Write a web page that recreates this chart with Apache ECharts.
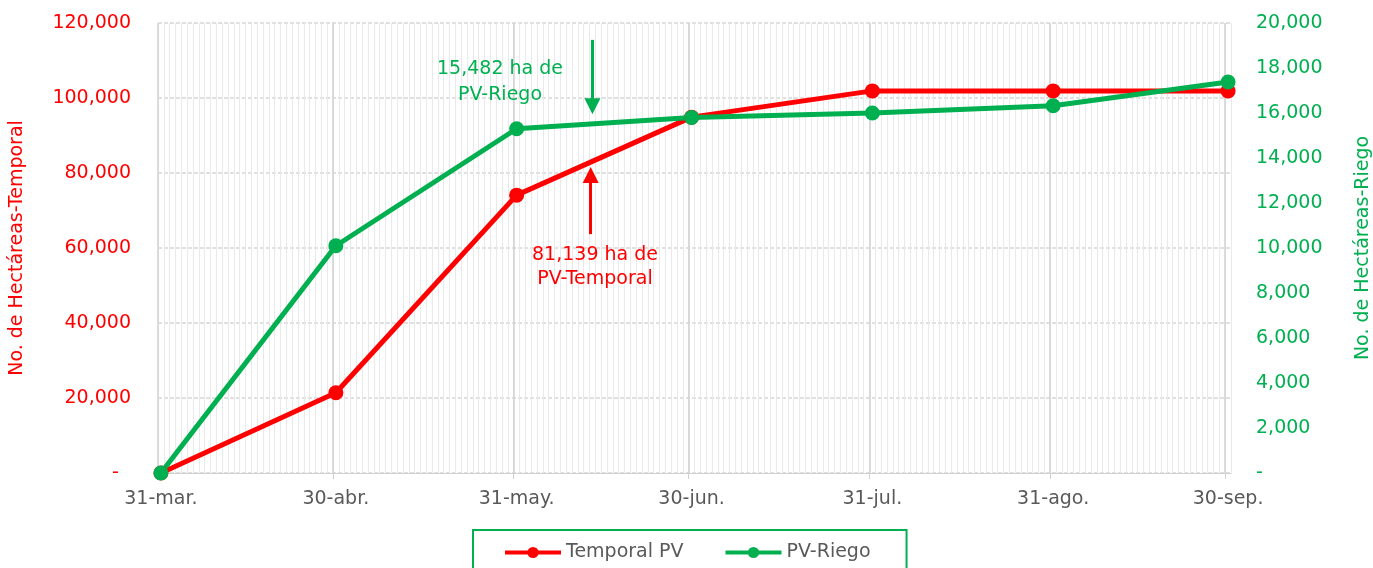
<!DOCTYPE html>
<html>
<head>
<meta charset="utf-8">
<script src="https://cdn.jsdelivr.net/npm/echarts@6/dist/echarts.min.js"></script>
<style>
  html, body { margin: 0; padding: 0; background: #fff; }
  #chart { width: 1373px; height: 568px; }
</style>
</head>
<body>
<div id="chart"></div>
<script>
// days counted from 31-mar, one bin per day
let dayOffsets = [0, 30, 61, 91, 122, 153, 183];
let dateLabels = ['31-mar.', '30-abr.', '31-may.', '30-jun.', '31-jul.', '31-ago.', '30-sep.'];
let temporalPV = [0, 21400, 74100, 94900, 101900, 101900, 101900];
let riegoPV = [0, 10100, 15300, 15800, 16000, 16320, 17380];
let totalDays = 184;

const RED = '#ff0000', GREEN = '#00b050', GRAY = '#595959';
const FONT = 'DejaVu Sans';

// points sit in the middle of their day bin
let centers = dayOffsets.map(d => d + 0.5);
let temporalData = centers.map((x, i) => [x, temporalPV[i]]);
let riegoData = centers.map((x, i) => [x, riegoPV[i]]);

function dateLabel(v) {
  let i = centers.findIndex(c => Math.abs(c - v) < 0.01);
  return i >= 0 ? dateLabels[i] : '';
}
function fmt(v, pad) {
  if (v === 0) return pad ? '-  ' : '-';
  return v.toLocaleString('en-US');
}

let chart = echarts.init(document.getElementById('chart'), null, { renderer: 'canvas' });
let option = {
  animation: false,
  textStyle: { fontFamily: FONT },
  grid: { left: 158, right: 142, top: 23, bottom: 95, containLabel: false, outerBoundsMode: 'none' },
  xAxis: [{
    // daily minor lines
    type: 'value', position: 'bottom', min: 0, max: totalDays, interval: 1,
    axisLine: { show: false }, axisTick: { show: false }, axisLabel: { show: false },
    splitLine: { show: true, lineStyle: { color: '#e9e9e9', width: 1 } }
  }, {
    type: 'value', position: 'bottom', min: 0, max: totalDays, z: 2,
    axisLine: { show: true, lineStyle: { color: '#d0d0d0', width: 1 } },
    axisTick: { show: true, length: 6, customValues: dayOffsets, lineStyle: { color: '#d0d0d0' } },
    axisLabel: {
      customValues: centers, formatter: dateLabel,
      color: GRAY, fontSize: 19, fontFamily: FONT, margin: 17
    },
    splitLine: { show: true, lineStyle: { color: '#d0d0d0', width: 1.5 } }
  }],
  yAxis: [{
    type: 'value', position: 'left', min: 0, max: 120000, interval: 20000,
    name: 'No. de Hectáreas-Temporal', nameLocation: 'middle', nameRotate: 90, nameGap: 131,
    nameTextStyle: { color: RED, fontSize: 19, fontFamily: FONT },
    axisLine: { show: false }, axisTick: { show: false },
    axisLabel: { color: RED, fontSize: 19, fontFamily: FONT, margin: 27, formatter: v => fmt(v, true) },
    splitLine: { show: true, lineStyle: { color: '#d6d6d6', width: 1.5, type: [4, 2] } }
  }, {
    type: 'value', position: 'right', min: 0, max: 20000, interval: 2000,
    name: 'No. de Hectáreas-Riego', nameLocation: 'middle', nameRotate: 90, nameGap: 123,
    nameTextStyle: { color: GREEN, fontSize: 19, fontFamily: FONT },
    axisLine: { show: false }, axisTick: { show: false },
    axisLabel: { color: GREEN, fontSize: 19, fontFamily: FONT, margin: 25, formatter: v => fmt(v, false) },
    splitLine: { show: false }
  }],
  legend: {
    left: 473, top: 530,
    data: ['Temporal PV', 'PV-Riego'],
    borderColor: GREEN, borderWidth: 2,
    padding: [13, 36, 30, 30],
    itemWidth: 56, itemHeight: 14, itemGap: 40,
    lineStyle: { width: 4 },
    textStyle: { color: GRAY, fontSize: 19, fontFamily: FONT }
  },
  series: [{
    name: 'Temporal PV', type: 'line',
    xAxisIndex: 1, yAxisIndex: 0,
    data: temporalData,
    symbol: 'circle', symbolSize: 15,
    lineStyle: { color: RED, width: 5 },
    itemStyle: { color: RED },
    markLine: {
      silent: true, symbol: ['none', 'triangle'], symbolSize: 16,
      label: { show: false },
      lineStyle: { color: RED, width: 3, type: 'solid' },
      data: [[{ coord: [74.2, 63700] }, { coord: [74.2, 79500] }]]
    }
  }, {
    name: 'PV-Riego', type: 'line',
    xAxisIndex: 1, yAxisIndex: 1,
    data: riegoData,
    symbol: 'circle', symbolSize: 15,
    lineStyle: { color: GREEN, width: 5 },
    itemStyle: { color: GREEN },
    markLine: {
      silent: true, symbol: ['none', 'triangle'], symbolSize: 16,
      label: { show: false },
      lineStyle: { color: GREEN, width: 3, type: 'solid' },
      data: [[{ coord: [74.5, 19250] }, { coord: [74.5, 16300] }]]
    }
  }],
  graphic: [{
    type: 'text', x: 500, y: 82, z: 10,
    style: {
      text: '15,482 ha de\nPV-Riego', align: 'center', verticalAlign: 'middle',
      fill: GREEN, fontSize: 19, fontFamily: FONT, lineHeight: 26
    }
  }, {
    type: 'text', x: 595, y: 267, z: 10,
    style: {
      text: '81,139 ha de\nPV-Temporal', align: 'center', verticalAlign: 'middle',
      fill: RED, fontSize: 19, fontFamily: FONT, lineHeight: 24
    }
  }]
};
chart.setOption(option);
</script>
</body>
</html>
